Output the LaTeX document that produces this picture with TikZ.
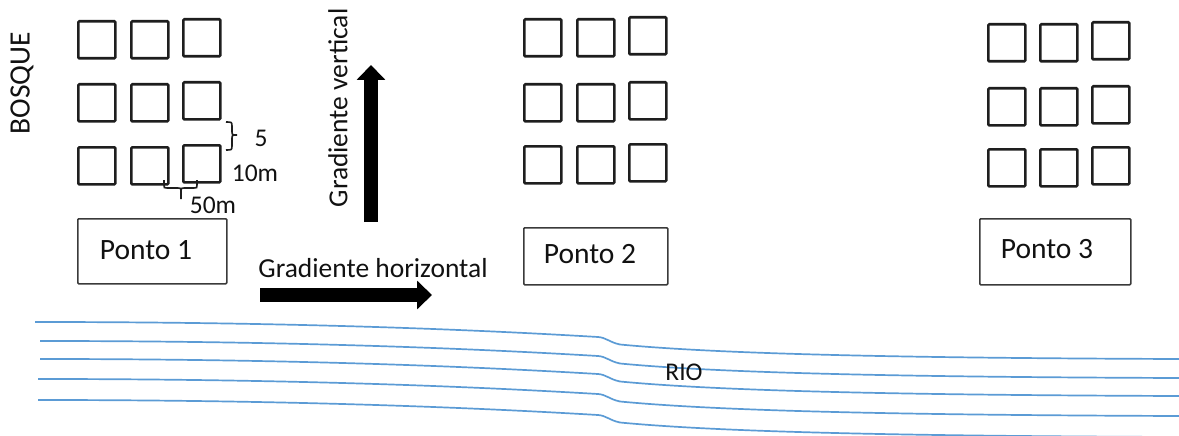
\documentclass[tikz,border=0pt]{standalone}
\usepackage{fontspec}
\setmainfont{Carlito}
\usetikzlibrary{arrows.meta}
\definecolor{sqcol}{HTML}{1E1E1E}
\definecolor{boxcol}{HTML}{3A3A3A}
\definecolor{river}{HTML}{5B9BD5}
\definecolor{txt}{HTML}{111111}
\tikzset{
  plot/.style={draw=sqcol, line width=2.6pt, rounded corners=1pt, minimum width=37pt, minimum height=37pt, inner sep=0pt, anchor=north west},
  pontobox/.style={draw=boxcol, line width=1.6pt, rounded corners=1pt, inner sep=0pt, anchor=north west},
  lbl/.style={inner sep=0pt, text=txt, font=\fontsize{25.5}{29}\selectfont},
  ponto/.style={inner sep=0pt, text=txt, font=\fontsize{29.5}{33}\selectfont},
  grad/.style={inner sep=0pt, text=txt, font=\fontsize{27.5}{31}\selectfont},
  bigarrow/.style={line width=14pt, -{Triangle[length=15pt,width=28pt]}},
  riverline/.style={draw=river, line width=1.7pt},
  brace/.style={draw=sqcol, line width=1.6pt}
}
\begin{document}
\begin{tikzpicture}[x=1pt,y=-1pt]
\useasboundingbox (0,0) rectangle (1179,436);

% group 1
\foreach \c/\x in {1/77,2/130,3/182}{
  \foreach \r/\y in {1/20,2/83,3/146}{
    \pgfmathsetmacro{\yy}{\c==3 ? \y-2 : \y}
    \node[plot] (a-\r-\c) at (\x,\yy) {};
  }
}
% group 2
\foreach \c/\x in {1/523,2/576,3/628}{
  \foreach \r/\y in {1/18,2/83,3/145}{
    \pgfmathsetmacro{\yy}{\c==3 ? \y-2 : \y}
    \node[plot] (b-\r-\c) at (\x,\yy) {};
  }
}
% group 3
\foreach \c/\x in {1/987,2/1039,3/1091}{
  \foreach \r/\y in {1/23,2/87,3/148}{
    \pgfmathsetmacro{\yy}{\c==3 ? \y-2 : \y}
    \node[plot] (c-\r-\c) at (\x,\yy) {};
  }
}

% Ponto boxes
\node[pontobox, minimum width=149pt, minimum height=65pt] (p1) at (77,218) {};
\node[ponto] (p1t) at (146,250) {Ponto 1};
\node[pontobox, minimum width=144pt, minimum height=57pt] (p2) at (523,227) {};
\node[ponto] (p2t) at (590,254) {Ponto 2};
\node[pontobox, minimum width=151pt, minimum height=66pt] (p3) at (979,218) {};
\node[ponto] (p3t) at (1047,249) {Ponto 3};

% BOSQUE
\node[ponto, rotate=90] (bosque) at (22,83) {BOSQUE};

% braces and dimensions
\draw[brace] (226,122) .. controls (232,122) .. (232,127) -- (232,131) .. controls (232,135) .. (237,135)
             (237,135) .. controls (232,135) .. (232,139) -- (232,145) .. controls (232,150) .. (226,150);
\node[lbl] (five) at (261,138) {5};
\node[lbl] (tenm) at (255,173) {10m};
\draw[brace] (164,180) -- (164,185) .. controls (164,188) .. (167,188) -- (178,188) .. controls (181,188) .. (181,191) -- (181,199)
             (181,191) .. controls (181,188) .. (184,188) -- (194,188) .. controls (197,188) .. (197,185) -- (197,180);
\node[lbl] (fiftym) at (213,205) {50m};

% gradients
\coordinate (gv1) at (371,222);
\coordinate (gv2) at (371,65);
\draw[bigarrow] (gv1) -- (gv2);
\node[grad, rotate=90] (gvt) at (338,108) {Gradiente vertical};
\coordinate (gh1) at (260,295);
\coordinate (gh2) at (432,295);
\draw[bigarrow] (gh1) -- (gh2);
\node[grad] (ght) at (373,268) {Gradiente horizontal};

% river
\foreach \dy/\sx in {0/35,19/40,37/40,57/38,78/38}{
  \draw[riverline] (\sx,322+\dy) .. controls (300,322+\dy) and (480,330+\dy) .. (598,337+\dy)
     .. controls (606,337.5+\dy) and (610,342.5+\dy) .. (620,344.5+\dy)
     .. controls (720,354+\dy) and (900,358+\dy) .. (1179,359+\dy);
}
\node[lbl] (rio) at (684,372) {RIO};
\end{tikzpicture}
\end{document}
